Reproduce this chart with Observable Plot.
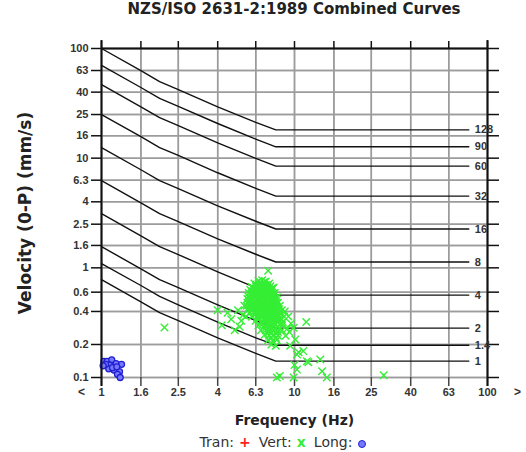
<!DOCTYPE html>
<html>
<head>
<meta charset="utf-8">
<script src="https://cdn.jsdelivr.net/npm/d3@7"></script>
<script src="https://cdn.jsdelivr.net/npm/@observablehq/plot@0.6"></script>
<style>
  body { margin: 0; background: #fff; width: 526px; height: 452px; overflow: hidden; }
  #title { height: 34px; line-height: 41px; box-sizing: border-box; padding-left: 101px; padding-right: 39px;
           text-align: center; font: bold 15px "DejaVu Sans", sans-serif; color: #222; white-space: nowrap; }
  #chart { position: relative; width: 526px; height: 400px; }
  #chart svg { position: absolute; left: 0; top: 0; display: block; }
  #legend { height: 18px; line-height: 18px; box-sizing: border-box; padding-left: 101px; padding-right: 61px;
            text-align: center; font: 14px "DejaVu Sans", sans-serif; color: #333; white-space: nowrap; }
  .sym { display: inline-block; margin: 0 8px 0 5px; }
  .circ { display: inline-block; width: 6px; height: 6px; border: 1.5px solid #2020d0; background: #7878ff;
          border-radius: 50%; margin: 0 0 0 6px; vertical-align: -1px; }
</style>
</head>
<body>
<div id="title"></div>
<div id="chart"></div>
<div id="legend"></div>
<script>
// ---- data ----
const titleText = "NZS/ISO 2631-2:1989 Combined Curves";
const xLabel = "Frequency (Hz)";
const yLabel = "Velocity (0-P) (mm/s)";

const xTicks = [1, 1.6, 2.5, 4, 6.3, 10, 16, 25, 40, 63, 100];
const xTickLabels = ["1", "1.6", "2.5", "4", "6.3", "10", "16", "25", "40", "63", "100"];
const yTicks = [100, 63, 40, 25, 16, 10, 6.3, 4, 2.5, 1.6, 1, 0.6, 0.4, 0.2, 0.1];
const yTickLabels = ["100", "63", "40", "25", "16", "10", "6.3", "4", "2.5", "1.6", "1", "0.6", "0.4", "0.2", "0.1"];
const xBelow = "<";
const xAbove = ">";

const curveLabels = ["128", "90", "60", "32", "16", "8", "4", "2", "1.4", "1"];
const curveFreqs = [1, 1.6, 2, 2.5, 4, 6.3, 8, 80];
const curveVelocities = [
  [100, 62.7, 49.9, 42.2, 29.4, 21.2, 18.1, 18.1],
  [70.2, 44.1, 35.1, 29.7, 20.7, 14.9, 12.7, 12.7],
  [46.8, 29.4, 23.4, 19.8, 13.8, 9.96, 8.46, 8.46],
  [25.0, 15.7, 12.5, 10.6, 7.36, 5.31, 4.51, 4.51],
  [12.5, 7.84, 6.24, 5.28, 3.68, 2.66, 2.26, 2.26],
  [6.24, 3.92, 3.12, 2.64, 1.84, 1.33, 1.13, 1.13],
  [3.12, 1.96, 1.56, 1.32, 0.92, 0.66, 0.564, 0.564],
  [1.56, 0.98, 0.78, 0.66, 0.46, 0.33, 0.282, 0.282],
  [1.09, 0.69, 0.55, 0.46, 0.32, 0.23, 0.197, 0.197],
  [0.78, 0.49, 0.39, 0.33, 0.23, 0.166, 0.141, 0.141]
];

// [frequency Hz, velocity mm/s]
const tranPoints = [];
const vertPoints = [
  [6.5,0.76],[6.8,0.77],[7.1,0.75],[6.65,0.74],[6.95,0.74],
  [6.2,0.72],[6.5,0.71],[6.8,0.72],[7.1,0.70],[7.4,0.72],[6.35,0.70],[6.65,0.69],[6.95,0.70],[7.25,0.69],
  [6.0,0.67],[6.3,0.68],[6.6,0.66],[6.9,0.68],[7.2,0.67],[7.5,0.68],[7.8,0.66],[6.15,0.65],[6.45,0.66],[6.75,0.65],[7.05,0.65],[7.35,0.65],[7.65,0.65],
  [5.9,0.63],[6.2,0.64],[6.5,0.62],[6.8,0.64],[7.1,0.63],[7.4,0.62],[7.7,0.64],[6.05,0.61],[6.35,0.61],[6.65,0.61],[6.95,0.61],[7.25,0.61],[7.55,0.61],
  [5.8,0.59],[6.1,0.60],[6.4,0.58],[6.7,0.60],[7.0,0.59],[7.3,0.60],[7.6,0.58],[7.9,0.59],[5.95,0.57],[6.25,0.57],[6.55,0.58],[6.85,0.57],[7.15,0.58],[7.45,0.57],[7.75,0.57],
  [5.75,0.55],[6.05,0.56],[6.35,0.55],[6.65,0.57],[6.95,0.55],[7.25,0.56],[7.55,0.55],[7.85,0.56],[8.1,0.54],[5.9,0.53],[6.2,0.54],[6.5,0.53],[6.8,0.54],[7.1,0.53],[7.4,0.54],[7.7,0.53],[7.95,0.53],
  [5.7,0.52],[6.0,0.51],[6.3,0.52],[6.6,0.50],[6.9,0.52],[7.2,0.51],[7.5,0.52],[7.8,0.50],[8.1,0.51],[5.85,0.50],[6.15,0.49],[6.45,0.50],[6.75,0.49],[7.05,0.50],[7.35,0.49],[7.65,0.50],[7.95,0.49],
  [5.7,0.48],[6.0,0.47],[6.3,0.48],[6.6,0.47],[6.9,0.48],[7.2,0.47],[7.5,0.48],[7.8,0.46],[8.2,0.48],[5.85,0.46],[6.15,0.46],[6.45,0.455],[6.75,0.46],[7.05,0.46],[7.35,0.455],[7.65,0.46],[8.0,0.46],
  [5.65,0.45],[5.95,0.44],[6.25,0.45],[6.55,0.43],[6.85,0.45],[7.15,0.44],[7.45,0.45],[7.75,0.43],[8.05,0.44],[8.4,0.45],[5.8,0.43],[6.1,0.43],[6.4,0.44],[7.0,0.43],[7.3,0.43],[7.6,0.44],[7.9,0.43],[8.2,0.43],
  [5.7,0.41],[6.0,0.42],[6.4,0.41],[6.7,0.42],[7.0,0.40],[7.3,0.42],[7.6,0.41],[7.9,0.40],[8.3,0.42],[8.6,0.41],[6.2,0.40],[6.55,0.40],[6.85,0.41],[7.15,0.41],[7.45,0.40],[7.75,0.41],[8.1,0.41],
  [5.9,0.39],[6.3,0.38],[6.6,0.39],[6.9,0.38],[7.2,0.39],[7.5,0.37],[7.8,0.39],[8.1,0.38],[8.5,0.38],[6.45,0.37],[6.75,0.37],[7.05,0.37],[7.35,0.38],[7.65,0.37],[7.95,0.37],[8.3,0.37],
  [6.0,0.36],[6.4,0.35],[6.8,0.36],[7.1,0.35],[7.4,0.36],[7.7,0.34],[8.0,0.36],[8.4,0.35],[8.8,0.36],[6.6,0.345],[6.95,0.34],[7.25,0.34],[7.55,0.35],[7.85,0.35],[8.2,0.34],[8.6,0.34],
  [6.3,0.33],[6.7,0.32],[7.0,0.33],[7.3,0.32],[7.6,0.33],[7.9,0.31],[8.3,0.33],[8.7,0.32],[6.85,0.31],[7.15,0.31],[7.45,0.31],[7.75,0.32],[8.1,0.32],[8.5,0.31],
  [6.5,0.30],[6.9,0.29],[7.2,0.30],[7.5,0.29],[7.8,0.30],[8.2,0.29],[8.6,0.30],[7.05,0.28],[7.35,0.28],[7.65,0.28],[8.0,0.28],[8.4,0.28],
  [6.7,0.27],[7.1,0.27],[7.4,0.26],[7.8,0.27],[8.2,0.26],[8.6,0.27],[7.6,0.255],[8.0,0.255],
  [7.0,0.245],[7.4,0.24],[7.8,0.245],[8.2,0.24],[7.6,0.23],[8.0,0.23],
  [7.3,0.22],[7.7,0.215],[8.1,0.22],
  [7.6,0.20],[8.0,0.195],
  [4.0,0.41],[4.2,0.30],[4.5,0.39],[4.9,0.27],[5.3,0.33],[5.1,0.41],[5.5,0.45],[4.7,0.34],[5.4,0.37],[5.2,0.29],[5.6,0.36],
  [2.12,0.286],
  [7.3,0.94],
  [9.3,0.36],[9.6,0.31],[8.9,0.40],[9.4,0.26],
  [11.5,0.32],[9.9,0.284],[10.1,0.222],[11.1,0.174],[10.3,0.162],[13.6,0.146],[11.6,0.141],
  [13.9,0.114],[10.3,0.118],[8.4,0.103],[9.9,0.10],[8.1,0.10],[14.7,0.10],[29,0.105],
  [9.0,0.24],[9.5,0.195],[9.2,0.28],[10.5,0.17],[11.8,0.138],[10.0,0.13]
];
const longPoints = [
  [1.03,0.14],[1.07,0.14],[1.13,0.145],[1.19,0.134],[1.27,0.132],[1.10,0.13],[1.09,0.12],
  [1.16,0.117],[1.24,0.113],[1.21,0.107],[1.25,0.10],[1.14,0.123],[1.05,0.132],[1.02,0.128],[1.2,0.125]
];

const legendNames = ["Tran:", "Vert:", "Long:"];
const legendColors = ["#ff2020", "#35ee35", "#2020d0"];

// ---- build ----
document.getElementById("title").textContent = titleText;

const xMin = xTicks[0], xMax = xTicks[xTicks.length - 1];
const yMin = yTicks[yTicks.length - 1], yMax = yTicks[0];

const curveData = curveLabels.flatMap((label, i) =>
  curveFreqs.map((f, j) => ({label, f, v: curveVelocities[i][j]})));
const curveEnds = curveLabels.map((label, i) =>
  ({label, f: curveFreqs[curveFreqs.length - 1], v: curveVelocities[i][curveVelocities[i].length - 1]}));
const toObj = ([f, v]) => ({f, v});
const tranData = tranPoints.map(toObj);
const vertData = vertPoints.map(toObj);
const longData = longPoints.map(toObj);

const gridV = xTicks.flatMap(d => [{k: "x" + d, x: d, y: yMin}, {k: "x" + d, x: d, y: yMax}]);
const gridH = yTicks.flatMap(d => [{k: "y" + d, x: xMin, y: d}, {k: "y" + d, x: xMax, y: d}]);
const xTickText = xTicks.map((d, i) => ({x: d, t: xTickLabels[i]}));
const yTickText = yTicks.map((d, i) => ({y: d, t: yTickLabels[i]}));
const xFrame = [{x: xMin}, {x: xMax}];
const yFrame = [{y: yMax}];

const blank = () => "";
const layout = {
  width: 526, height: 400,
  marginTop: 14, marginBottom: 57, marginLeft: 101, marginRight: 39,
  x: {type: "log", domain: [xMin, xMax], axis: null},
  y: {type: "log", domain: [yMin, yMax], axis: null}
};

// background layer: grid only
const gridLayer = Plot.plot({
  ...layout,
  style: {background: "#fff"},
  marks: [
    Plot.ruleX([...xTicks], {stroke: "#9c9c9c", strokeWidth: 1.5}),
    Plot.ruleY([...yTicks], {stroke: "#9c9c9c", strokeWidth: 1.5})
  ]
});

// foreground layer: everything else
const chart = Plot.plot({
  ...layout,
  style: {fontFamily: "'Liberation Sans', Arial, sans-serif", fontSize: "11px", fontWeight: "bold", color: "#333", background: "transparent", overflow: "visible"},
  marks: [
    Plot.line(gridV, {x: "x", y: "y", z: "k", stroke: "#9c9c9c", strokeWidth: 1.5}),
    Plot.line(gridH, {x: "x", y: "y", z: "k", stroke: "#9c9c9c", strokeWidth: 1.5}),
    Plot.axisX({anchor: "top", ticks: [...xTicks], tickFormat: blank, tickSize: 8, stroke: "#111", strokeWidth: 1.5, label: null}),
    Plot.axisX({anchor: "bottom", ticks: [...xTicks], tickFormat: blank, tickSize: 9, stroke: "#444", strokeWidth: 1.5, label: null}),
    Plot.axisY({anchor: "left", ticks: [...yTicks], tickFormat: blank, tickSize: 10, stroke: "#111", strokeWidth: 1.5, label: null}),
    Plot.axisY({anchor: "right", ticks: [...yTicks], tickFormat: blank, tickSize: 11, stroke: "#111", strokeWidth: 1.5, label: null}),
    Plot.text(xTickText, {x: "x", text: "t", frameAnchor: "bottom", dy: 18.5, fill: "#333"}),
    Plot.text(yTickText, {y: "y", text: "t", frameAnchor: "left", dx: -13, textAnchor: "end", fill: "#333"}),
    Plot.text([xBelow], {text: d => d, frameAnchor: "bottom-left", dx: -20, dy: 18.5, textAnchor: "middle", fill: "#333", fontSize: 12}),
    Plot.text([xAbove], {text: d => d, frameAnchor: "bottom-right", dx: 30, dy: 18.5, textAnchor: "middle", fill: "#333", fontSize: 12}),
    Plot.text([xLabel], {text: d => d, frameAnchor: "bottom", dy: 47, textAnchor: "middle", fontFamily: "'DejaVu Sans', sans-serif", fontSize: 14, fontWeight: "bold", fill: "#222"}),
    Plot.text([yLabel], {text: d => d, frameAnchor: "left", dx: -76, rotate: -90, textAnchor: "middle", fontFamily: "'DejaVu Sans', sans-serif", fontSize: 17, fontWeight: "bold", fill: "#222"}),
    Plot.line(curveData, {x: "f", y: "v", z: "label", stroke: "#111", strokeWidth: 1.4}),
    Plot.dot(longData, {x: "f", y: "v", r: 3, stroke: legendColors[2], fill: "#7878ff", strokeWidth: 1.3}),
    Plot.dot(vertData, {x: "f", y: "v", symbol: "times", r: 3.5, stroke: legendColors[1], strokeWidth: 1.4}),
    Plot.dot(tranData, {x: "f", y: "v", symbol: "plus", r: 3.5, stroke: legendColors[0], strokeWidth: 1.3}),
    Plot.ruleX(xFrame, {x: "x", stroke: "#111", strokeWidth: 2, insetTop: -8, insetBottom: -9}),
    Plot.ruleY(yFrame, {y: "y", stroke: "#111", strokeWidth: 2}),
    Plot.text(curveEnds, {x: "f", y: "v", text: "label", dx: 6, textAnchor: "start", fill: "#333"})
  ]
});
const holder = document.getElementById("chart");
holder.appendChild(gridLayer);
holder.appendChild(chart);

// legend
const legend = document.getElementById("legend");
legendNames.forEach((name, i) => {
  const t = document.createElement("span");
  t.textContent = name;
  legend.appendChild(t);
  if (i < 2) {
    const s = document.createElement("span");
    s.className = "sym";
    s.style.color = legendColors[i];
    s.style.fontWeight = "bold";
    s.textContent = i === 0 ? "+" : "x";
    legend.appendChild(s);
  } else {
    const c = document.createElement("span");
    c.className = "circ";
    legend.appendChild(c);
  }
});
</script>
</body>
</html>
